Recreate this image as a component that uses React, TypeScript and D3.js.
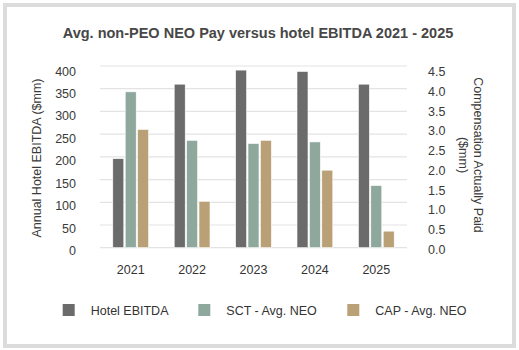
import React from "react";
import * as d3 from "d3";

const years = ["2021", "2022", "2023", "2024", "2025"];
const hotelEbitda = [196, 360, 391, 388, 360];
const sctAvgNeo = [3.86, 2.66, 2.58, 2.62, 1.54];
const capAvgNeo = [2.93, 1.15, 2.66, 1.92, 0.41];
const leftTicks = [0, 50, 100, 150, 200, 250, 300, 350, 400];
const rightTicks = [0, 0.5, 1, 1.5, 2, 2.5, 3, 3.5, 4, 4.5];
const seriesNames = ["Hotel EBITDA", "SCT - Avg. NEO", "CAP - Avg. NEO"];
const colors = ["#6b6b6b", "#8fa89d", "#b9a077"];

const W = 519, H = 350;
const FONT = "'Liberation Sans', Arial, sans-serif";

export default function App() {
  const x0 = 100, x1 = 407, yTop = 66, yBot = 247.7;
  const xBand = d3.scaleBand().domain(years).range([x0, x1]).paddingInner(0).paddingOuter(0);
  const yL = d3.scaleLinear().domain([0, 400]).range([yBot, yTop]);
  const yR = d3.scaleLinear().domain([0, 4.5]).range([yBot, yTop]);
  const yLLabel = d3.scaleLinear().domain([0, 400]).range([255.3, 75.5]);
  const yRLabel = d3.scaleLinear().domain([0, 4.5]).range([254, 76.2]);
  const barW = 11;
  const step = 12.4;

  const series = [
    { vals: hotelEbitda, scale: yL },
    { vals: sctAvgNeo, scale: yR },
    { vals: capAvgNeo, scale: yR },
  ];

  const legendX = [62.7, 198.3, 347.3];

  return (
    <svg width={W} height={H} style={{ position: "absolute", left: 0, top: 0, background: "#fff" }} fontFamily={FONT}>
      <rect x={5} y={5} width={509} height={341} fill="#fff" stroke="#dcdcdc" strokeWidth={4} />
      <text x={258} y={38} textAnchor="middle" fontSize={14.5} fontWeight="bold" fill="#474747">
        Avg. non-PEO NEO Pay versus hotel EBITDA 2021 - 2025
      </text>
      {leftTicks.map((t) => (
        <line key={"g" + t} x1={x0} x2={x1} y1={yL(t)} y2={yL(t)} stroke="#e3e3e3" strokeWidth={1.2} />
      ))}
      {leftTicks.map((t) => (
        <text key={"l" + t} x={76} y={yLLabel(t)} textAnchor="end" fontSize={12.5} fill="#3a3a3a">
          {t}
        </text>
      ))}
      {rightTicks.map((t) => (
        <text key={"r" + t} x={428} y={yRLabel(t)} textAnchor="start" fontSize={12.5} fill="#3a3a3a">
          {t.toFixed(1)}
        </text>
      ))}
      {series.map((s, si) =>
        years.map((yr, i) => {
          const cx = (xBand(yr) as number) + xBand.bandwidth() / 2;
          const bx = cx + (si - 1) * step - barW / 2;
          const top = s.scale(s.vals[i]);
          return (
            <rect key={si + "-" + yr} x={bx} y={top} width={barW} height={yBot - top} fill={colors[si]} stroke="#fff" strokeWidth={0.6} />
          );
        })
      )}
      {years.map((yr) => (
        <text key={"x" + yr} x={(xBand(yr) as number) + xBand.bandwidth() / 2} y={274} textAnchor="middle" fontSize={12.5} fill="#333">
          {yr}
        </text>
      ))}
      <text transform={`translate(41,158) rotate(-90)`} textAnchor="middle" fontSize={12.5} fill="#3a3a3a">
        Annual Hotel EBITDA ($mm)
      </text>
      <text transform={`translate(474,155) rotate(90)`} textAnchor="middle" fontSize={12.5} fill="#3a3a3a">
        <tspan x={0} dy={0}>Compensation Actually Paid</tspan>
        <tspan x={0} dy={15}>($mm)</tspan>
      </text>
      {seriesNames.map((n, i) => (
        <g key={n}>
          <rect x={legendX[i]} y={304} width={12} height={12} fill={colors[i]} />
          <text x={legendX[i] + 28} y={314.5} fontSize={12.5} fill="#333">
            {n}
          </text>
        </g>
      ))}
    </svg>
  );
}
